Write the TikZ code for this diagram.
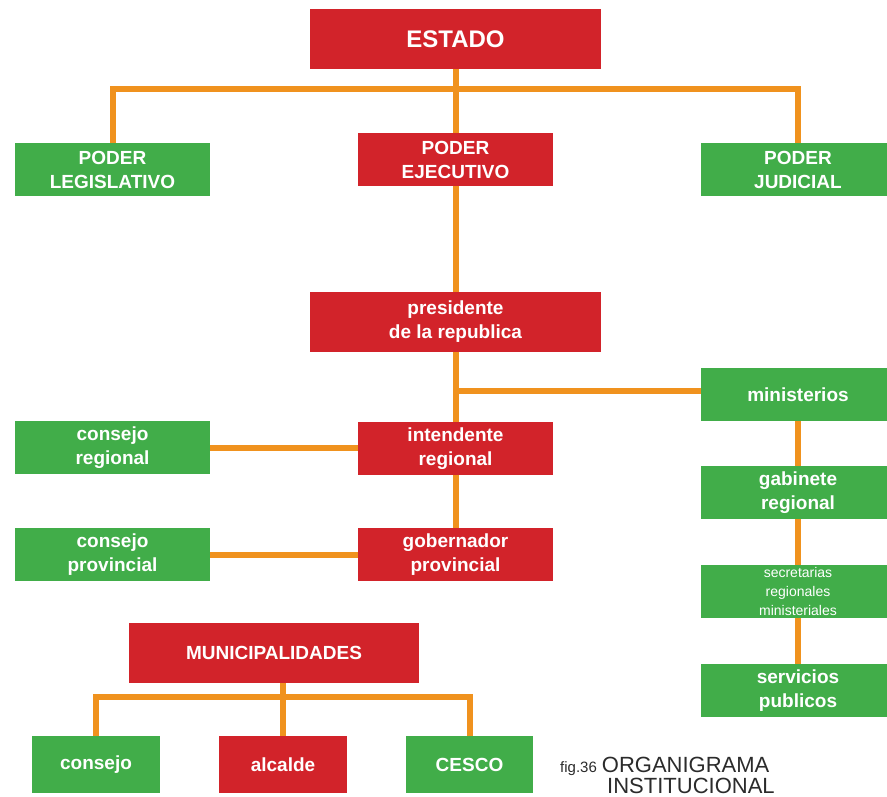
\documentclass[tikz,border=0pt]{standalone}
\usepackage{fontspec}
\setmainfont{Liberation Sans}
\usetikzlibrary{backgrounds}
\definecolor{boxred}{HTML}{D2232A}
\definecolor{boxgreen}{HTML}{41AD49}
\definecolor{linkorange}{HTML}{F0921E}
\definecolor{captext}{HTML}{2B2B2B}
\begin{document}
\begin{tikzpicture}[x=1pt,y=-1pt,
  box/.style={rectangle, inner sep=0pt, text=white, align=center,
    font=\bfseries\fontsize{19}{24}\selectfont},
  redbox/.style={box, fill=boxred},
  greenbox/.style={box, fill=boxgreen},
  link/.style={draw=linkorange, line width=6pt},
  captxt/.style={inner sep=0pt, text=captext}]
\useasboundingbox (0,0) rectangle (887,796);
\clip (0,0) rectangle (887,796);

% nodes
\node[redbox, minimum width=291pt, minimum height=60pt, font=\bfseries\fontsize{24}{28}\selectfont] (estado) at (455.5,39) {ESTADO};
\node[greenbox, minimum width=195pt, minimum height=53pt] (leg) at (112.5,169.5) {PODER\\LEGISLATIVO};
\node[redbox, minimum width=195pt, minimum height=53pt] (ejec) at (455.5,159.5) {PODER\\EJECUTIVO};
\node[greenbox, minimum width=194pt, minimum height=53pt] (jud) at (798,169.5) {PODER\\JUDICIAL};
\node[redbox, minimum width=291pt, minimum height=60pt] (pres) at (455.5,322) {presidente\\de la republica};
\node[greenbox, minimum width=194pt, minimum height=53pt] (min) at (798,394.5) {ministerios};
\node[greenbox, minimum width=195pt, minimum height=53pt] (creg) at (112.5,447.5) {consejo\\regional};
\node[redbox, minimum width=195pt, minimum height=53pt] (intend) at (455.5,448.5) {intendente\\regional};
\node[greenbox, minimum width=194pt, minimum height=53pt] (gab) at (798,492.5) {gabinete\\regional};
\node[greenbox, minimum width=195pt, minimum height=53pt] (cprov) at (112.5,554.5) {consejo\\provincial};
\node[redbox, minimum width=195pt, minimum height=53pt] (gob) at (455.5,554.5) {gobernador\\provincial};
\node[greenbox, minimum width=194pt, minimum height=53pt, font=\fontsize{14}{19}\selectfont] (secr) at (798,591.5) {secretarias\\regionales\\ministeriales};
\node[greenbox, minimum width=194pt, minimum height=53pt] (serv) at (798,690.5) {servicios\\publicos};
\node[redbox, minimum width=290pt, minimum height=60pt] (muni) at (274,653) {MUNICIPALIDADES};
\node[greenbox, minimum width=128pt, minimum height=57pt] (cons) at (96,764.5) {consejo};
\node[redbox, minimum width=128pt, minimum height=57pt] (alc) at (283,764.5) {alcalde};
\node[greenbox, minimum width=127pt, minimum height=57pt] (cesco) at (469.5,764.5) {CESCO};

% bus coordinates
\coordinate (topbus) at (455.5,89);
\coordinate (minbus) at (455.5,391);
\coordinate (munibus) at (283,697);

% connectors (behind the boxes)
\begin{pgfonlayer}{background}
\fill[white] (0,0) rectangle (887,796);
\draw[link] (estado.south) -- (ejec.north);
\draw[link] (leg.north) |- (topbus) -| (jud.north);
\draw[link] (ejec.south) -- (pres.north);
\draw[link] (pres.south) -- (intend.north);
\draw[link] (minbus) -- (minbus -| min.west);
\draw[link] (creg.east) -- (creg.east -| intend.west);
\draw[link] (intend.south) -- (gob.north);
\draw[link] (cprov.east) -- (cprov.east -| gob.west);
\draw[link] (min.south) -- (gab.north);
\draw[link] (gab.south) -- (secr.north);
\draw[link] (secr.south) -- (serv.north);
\draw[link] (alc.north |- muni.south) -- (alc.north);
\draw[link] (cons.north) |- (munibus) -| (cesco.north);
\end{pgfonlayer}

% caption
\node[captxt, anchor=base west] (cap1) at (560,772) {{\fontsize{15}{15}\selectfont fig.36}\hspace{5pt}{\fontsize{22}{26}\selectfont ORGANIGRAMA}};
\node[captxt, anchor=base west, font=\fontsize{22}{26}\selectfont] (cap2) at (607,793) {INSTITUCIONAL};
\end{tikzpicture}
\end{document}
